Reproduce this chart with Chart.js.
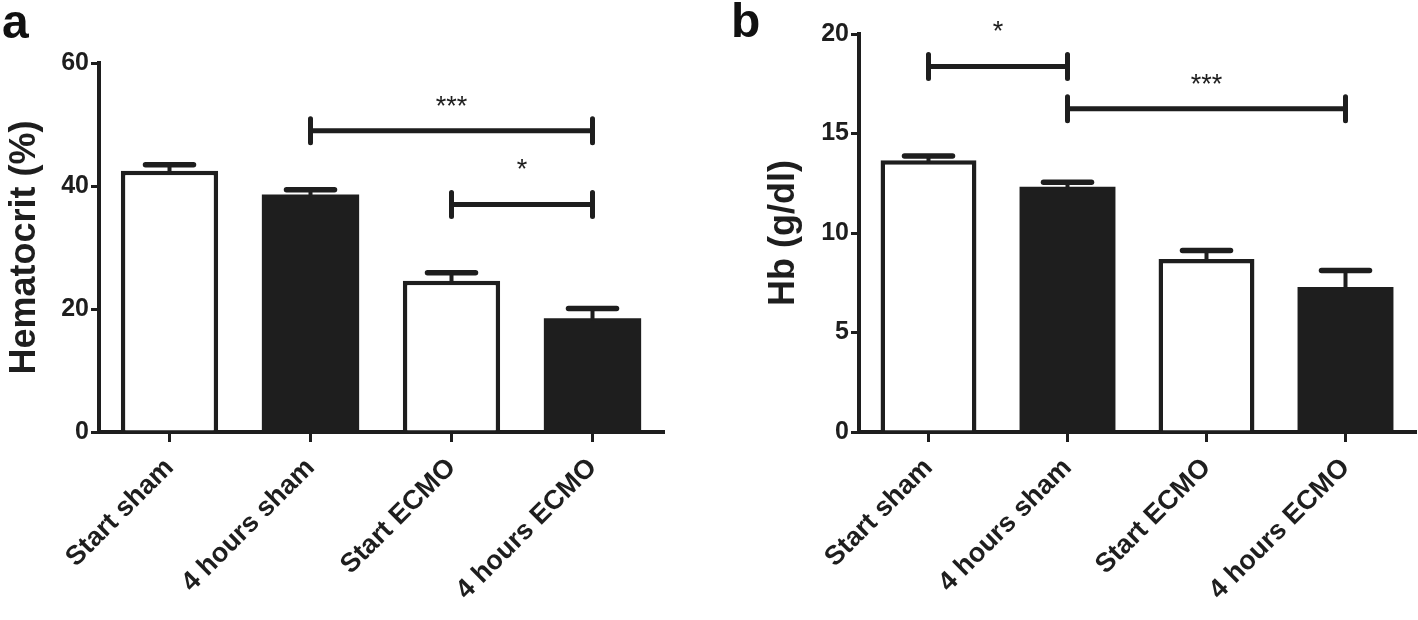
<!DOCTYPE html>
<html>
<head>
<meta charset="utf-8">
<script src="https://cdn.jsdelivr.net/npm/chart.js@4.4.1/dist/chart.umd.min.js"></script>
<style>
  html, body { margin: 0; padding: 0; background: #fff; }
  #page { position: relative; width: 1418px; height: 620px; overflow: hidden; }
  .panel { position: absolute; top: 0; height: 620px; }
  .tag { position: absolute; font: bold 48px 'Liberation Sans', Arial, sans-serif; color: #111; line-height: 1; }
</style>
</head>
<body>
<div id="page">
  <div class="panel" style="left:0;width:705px;"><canvas id="chartA"></canvas></div>
  <div class="panel" style="left:705px;width:713px;"><canvas id="chartB"></canvas></div>
  <div class="tag" style="left:2px;top:-2px;">a</div>
  <div class="tag" style="left:731px;top:-3px;">b</div>
</div>
<script>
// 두 패널 공통 카테고리
const categories = ['Start sham', '4 hours sham', 'Start ECMO', '4 hours ECMO'];

// a: Hematocrit (%) — 평균 + 위쪽 오차(SEM)
const hctMean = [42.5, 38.6, 24.6, 18.5];
const hctErr  = [0.95, 0.8, 1.3, 1.6];
const hctTicks = [0, 20, 40, 60];
// 유의성 표시: [왼쪽 카테고리, 오른쪽 카테고리, 높이(값), 라벨]
const hctSig = [[1, 3, 49.0, '***'], [2, 3, 37.0, '*']];

// b: Hb (g/dl)
const hbMean = [13.65, 12.33, 8.69, 7.29];
const hbErr  = [0.22, 0.22, 0.43, 0.83];
const hbTicks = [0, 5, 10, 15, 20];
const hbSig = [[0, 1, 18.37, '*'], [1, 3, 16.25, '***']];

const INK = '#1e1e1e';
const FONT = "'Liberation Sans', Arial, sans-serif";
const barFill = ['#ffffff', INK, '#ffffff', INK];
// 검은 막대는 테두리 없이 채움만 (테두리는 안쪽에 그려지므로 외곽 크기는 같음)
const barBorder = [4.5, 0, 4.5, 0];

// ---- 오차막대 (위쪽만) ----
const errorBars = {
    id: 'errorBars',
    afterDatasetsDraw(chart) {
        const { ctx, scales: { y } } = chart;
        chart.data.datasets.forEach((ds, di) => {
            const meta = chart.getDatasetMeta(di);
            meta.data.forEach((bar, i) => {
                const top = y.getPixelForValue(ds.data[i] + ds.errors[i]);
                ctx.save();
                ctx.strokeStyle = INK;
                ctx.lineCap = 'round';
                ctx.lineWidth = 4;
                ctx.beginPath();
                ctx.moveTo(bar.x, bar.y);
                ctx.lineTo(bar.x, top);
                ctx.stroke();
                ctx.lineWidth = 5.5;
                ctx.beginPath();
                ctx.moveTo(bar.x - 24, top);
                ctx.lineTo(bar.x + 24, top);
                ctx.stroke();
                ctx.restore();
            });
        });
    }
};

// ---- 유의성 브래킷 ----
const sigBrackets = {
    id: 'sigBrackets',
    afterDraw(chart, args, opts) {
        const { ctx, scales: { x, y } } = chart;
        (opts.items || []).forEach(([a, b, v, label]) => {
            const x1 = x.getPixelForValue(a), x2 = x.getPixelForValue(b);
            const yy = y.getPixelForValue(v);
            ctx.save();
            ctx.strokeStyle = INK;
            ctx.lineWidth = 5;
            ctx.lineCap = 'round';
            ctx.beginPath();
            ctx.moveTo(x1, yy); ctx.lineTo(x2, yy);
            ctx.moveTo(x1, yy - 12); ctx.lineTo(x1, yy + 12);
            ctx.moveTo(x2, yy - 12); ctx.lineTo(x2, yy + 12);
            ctx.stroke();
            ctx.fillStyle = INK;
            ctx.font = `27px ${FONT}`;
            ctx.textAlign = 'center';
            ctx.textBaseline = 'middle';
            ctx.fillText(label, (x1 + x2) / 2, yy - (label.length === 1 ? 34 : 23));
            ctx.restore();
        });
    }
};

function makeChart(el, mean, err, ticks, sig, title, yWidth, padRight, padTop, titlePad) {
    const yMax = ticks[ticks.length - 1];
    return new Chart(el, {
        type: 'bar',
        data: {
            labels: categories,
            datasets: [{
                data: mean,
                errors: err,
                backgroundColor: barFill,
                borderColor: INK,
                borderWidth: barBorder,
                borderSkipped: 'bottom',
                barPercentage: 0.69,
                categoryPercentage: 1,
            }]
        },
        options: {
            responsive: true,
            maintainAspectRatio: false,
            animation: false,
            layout: { padding: { top: padTop, right: padRight, bottom: 0, left: 0 } },
            plugins: {
                legend: { display: false },
                tooltip: { enabled: false },
                sigBrackets: { items: sig },
            },
            scales: {
                x: {
                    offset: true,
                    grid: { display: true, offset: false, drawOnChartArea: false, drawTicks: true, tickLength: 10, color: INK, lineWidth: 3 },
                    border: { display: true, color: INK, width: 4 },
                    ticks: {
                        color: INK, minRotation: 45, maxRotation: 45, padding: 10,
                        font: { family: FONT, size: 27, weight: 'bold' },
                    },
                    afterFit: s => { s.height = 188; },
                },
                y: {
                    min: 0, max: yMax,
                    afterBuildTicks: s => { s.ticks = ticks.map(v => ({ value: v })); },
                    grid: { display: true, drawOnChartArea: false, drawTicks: true, tickLength: 8, color: INK, lineWidth: 3 },
                    border: { display: true, color: INK, width: 4 },
                    ticks: {
                        color: INK, padding: 2,
                        font: { family: FONT, size: 25, weight: 'bold' },
                    },
                    title: {
                        display: true, text: title, color: INK,
                        padding: { top: titlePad, bottom: 0 },
                        font: { family: FONT, size: 36, weight: 'bold' },
                    },
                    afterFit: s => { s.width = yWidth; },
                }
            }
        },
        plugins: [errorBars, sigBrackets]
    });
}

makeChart(document.getElementById('chartA'), hctMean, hctErr, hctTicks, hctSig, 'Hematocrit (%)', 99, 42, 63, 3);
makeChart(document.getElementById('chartB'), hbMean, hbErr, hbTicks, hbSig, 'Hb (g/dl)', 154, 3, 34, 57);
</script>
</body>
</html>
